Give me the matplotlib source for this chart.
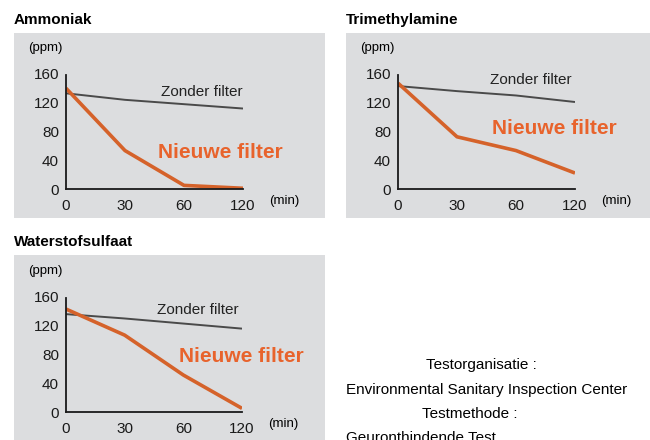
import matplotlib
matplotlib.use("Agg")
import matplotlib.pyplot as plt
from matplotlib.patches import Rectangle

plt.rcParams['font.family'] = ['Liberation Sans', 'DejaVu Sans']

# time points (min), drawn evenly spaced
time_labels = ["0", "30", "60", "120"]
y_ticks = [0, 40, 80, 120, 160]

titles = ["Ammoniak", "Trimethylamine", "Waterstofsulfaat"]

# concentration (ppm) without filter
zonder_ammoniak = [132, 123, 117, 111]
zonder_trimethyl = [142, 135, 129, 120]
zonder_waterstof = [135, 129, 122, 115]

# concentration (ppm) with the new filter
nieuwe_ammoniak = [139, 53, 5, 1]
nieuwe_trimethyl = [146, 72, 53, 22]
nieuwe_waterstof = [142, 106, 51, 5]

zonder_series = [zonder_ammoniak, zonder_trimethyl, zonder_waterstof]
nieuwe_series = [nieuwe_ammoniak, nieuwe_trimethyl, nieuwe_waterstof]

# label anchor positions (data coords) per panel
zonder_label_pos = [(3.0, 134), (2.95, 150), (2.95, 141)]
nieuwe_label_pos = [(1.56, 51), (1.59, 84), (1.93, 76)]

W, H = 650, 440
fig = plt.figure(figsize=(W / 100, H / 100), dpi=100)

BG = "#dcdddf"
ORANGE_LINE = "#d5622a"
ORANGE_TEXT = "#e8632c"
GRAY_LINE = "#4a4a4a"
FS = 11

# panel layout in pixels: (bg_left, bg_top, bg_right, bg_bottom, ax_left, ax_top, ax_right, ax_bottom)
panels = [
    (14, 33, 325, 218, 66, 73, 243, 189),
    (346, 33, 650, 218, 398, 73, 575, 189),
    (14, 255, 325, 440, 66, 296, 242, 412),
]
title_pos = [(14, 20), (346, 20), (14, 242)]


def fx(px):
    return px / W


def fy(py):
    return 1 - py / H


for i, (bl, bt, br, bb, al, at, ar, ab) in enumerate(panels):
    fig.add_artist(Rectangle((fx(bl), fy(bb)), fx(br - bl), (bb - bt) / H,
                             transform=fig.transFigure, facecolor=BG,
                             edgecolor="none", zorder=0))
    fig.text(fx(title_pos[i][0]), fy(title_pos[i][1]), titles[i],
             fontsize=11, fontweight="bold", ha="left", va="center")

    ax = fig.add_axes([fx(al), fy(ab), fx(ar - al), (ab - at) / H])
    ax.set_facecolor("none")
    ax.patch.set_visible(False)
    x = list(range(len(time_labels)))
    ax.plot(x, zonder_series[i], color=GRAY_LINE, lw=1.4, solid_capstyle="butt", zorder=3)
    ax.plot(x, nieuwe_series[i], color=ORANGE_LINE, lw=2.6, solid_capstyle="butt",
            solid_joinstyle="round", zorder=4)
    ax.set_xlim(0, 3)
    ax.set_ylim(0, 160)
    ax.set_xticks(x)
    ax.set_xticklabels(time_labels)
    ax.set_yticks(y_ticks)
    ax.tick_params(length=0, labelsize=FS, colors="#1a1a1a")
    ax.tick_params(axis="y", pad=5)
    ax.tick_params(axis="x", pad=7)
    for s in ["top", "right"]:
        ax.spines[s].set_visible(False)
    for s in ["left", "bottom"]:
        ax.spines[s].set_color("#1a1a1a")
        ax.spines[s].set_linewidth(1.3)
        ax.spines[s].set_zorder(5)
    ax.spines["left"].set_bounds(0, 157)
    ax.text(-0.65, 195, "(ppm)", fontsize=9.5, ha="left", va="center", clip_on=False)
    ax.text(3.45, -17, "(min)", fontsize=9.5, ha="left", va="center", clip_on=False)

    zx, zy = zonder_label_pos[i]
    ax.text(zx, zy, "Zonder filter", fontsize=FS, color="#222222",
            ha="right", va="center", clip_on=False)
    nx, ny = nieuwe_label_pos[i]
    ax.text(nx, ny, "Nieuwe filter", fontsize=15, fontweight="bold",
            color=ORANGE_TEXT, ha="left", va="center", clip_on=False)

# test information block
fig.text(fx(481), fy(365), "Testorganisatie :", fontsize=FS, ha="center", va="center")
fig.text(fx(346), fy(390), "Environmental Sanitary Inspection Center", fontsize=FS,
         ha="left", va="center")
fig.text(fx(470), fy(414), "Testmethode :", fontsize=FS, ha="center", va="center")
fig.text(fx(346), fy(438), "Geuronthindende Test", fontsize=FS, ha="left", va="center")

fig.savefig("out.png", dpi=100)
